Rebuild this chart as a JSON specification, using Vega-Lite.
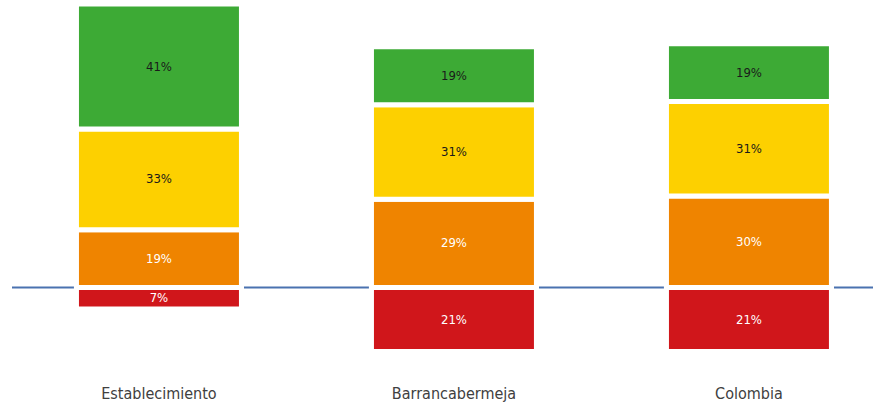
{
  "$schema": "https://vega.github.io/schema/vega-lite/v6.json",
  "width": 861,
  "height": 378,
  "autosize": "none",
  "padding": {"left": 12, "top": 1, "right": 11, "bottom": 23},
  "background": "white",
  "config": {"view": {"stroke": null}},
  "layer": [
    {
      "data": {"values": [{}]},
      "mark": {"type": "rule", "color": "#4a72b0", "strokeWidth": 2},
      "encoding": {
        "y": {"datum": 0, "type": "quantitative", "scale": {"domain": [-30, 94]}, "axis": null}
      }
    },
    {
      "data": {
        "values": [
          {"grupo": "Establecimiento", "nivel": "Insuficiente", "orden": 0, "valor": -7},
          {"grupo": "Establecimiento", "nivel": "Mínimo", "orden": 1, "valor": 19},
          {"grupo": "Establecimiento", "nivel": "Satisfactorio", "orden": 2, "valor": 33},
          {"grupo": "Establecimiento", "nivel": "Avanzado", "orden": 3, "valor": 41},
          {"grupo": "Barrancabermeja", "nivel": "Insuficiente", "orden": 0, "valor": -21},
          {"grupo": "Barrancabermeja", "nivel": "Mínimo", "orden": 1, "valor": 29},
          {"grupo": "Barrancabermeja", "nivel": "Satisfactorio", "orden": 2, "valor": 31},
          {"grupo": "Barrancabermeja", "nivel": "Avanzado", "orden": 3, "valor": 19},
          {"grupo": "Colombia", "nivel": "Insuficiente", "orden": 0, "valor": -21},
          {"grupo": "Colombia", "nivel": "Mínimo", "orden": 1, "valor": 30},
          {"grupo": "Colombia", "nivel": "Satisfactorio", "orden": 2, "valor": 31},
          {"grupo": "Colombia", "nivel": "Avanzado", "orden": 3, "valor": 19}
        ]
      },
      "transform": [
        {"stack": "valor", "groupby": ["grupo"], "sort": [{"field": "orden", "order": "ascending"}], "as": ["v0", "v1"]},
        {"calculate": "(datum.v0 + datum.v1) / 2", "as": "vmid"},
        {"calculate": "abs(datum.valor) + '%'", "as": "etiqueta"}
      ],
      "encoding": {
        "x": {
          "field": "grupo",
          "type": "nominal",
          "sort": ["Establecimiento", "Barrancabermeja", "Colombia"],
          "scale": {"paddingInner": 0.4407, "paddingOuter": 0.1797, "align": 0.608},
          "axis": {
            "title": null,
            "orient": "bottom",
            "domain": false,
            "ticks": false,
            "grid": false,
            "labelAngle": 0,
            "labelFont": "DejaVu Sans Condensed",
            "labelFontSize": 16,
            "labelColor": "#404040",
            "labelPadding": 6
          }
        }
      },
      "layer": [
        {
          "mark": {"type": "bar", "stroke": "white", "strokeWidth": 5},
          "encoding": {
            "y": {"field": "v0", "type": "quantitative", "scale": {"domain": [-30, 94]}, "axis": null},
            "y2": {"field": "v1"},
            "color": {
              "field": "nivel",
              "type": "nominal",
              "scale": {
                "domain": ["Insuficiente", "Mínimo", "Satisfactorio", "Avanzado"],
                "range": ["#d0161b", "#ef8400", "#fdd000", "#3daa35"]
              },
              "legend": null
            }
          }
        },
        {
          "mark": {"type": "text", "font": "DejaVu Sans Condensed", "fontSize": 13, "baseline": "middle", "align": "center"},
          "encoding": {
            "y": {"field": "vmid", "type": "quantitative", "scale": {"domain": [-30, 94]}, "axis": null},
            "text": {"field": "etiqueta"},
            "color": {
              "condition": {"test": "datum.nivel === 'Insuficiente' || datum.nivel === 'Mínimo'", "value": "#ffffff"},
              "value": "#1a1a1a"
            }
          }
        }
      ]
    }
  ]
}
